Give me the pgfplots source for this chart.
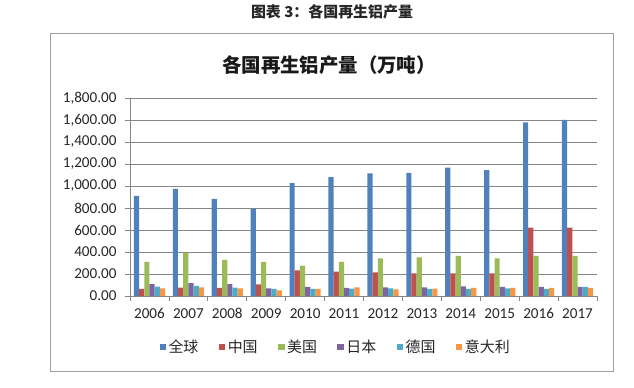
\documentclass[border=0pt]{standalone}
\usepackage{pgfplots}
\usepackage{pgfplotstable}
\pgfplotsset{compat=1.18}
\usepackage{fontspec}
\setmainfont{Carlito}
\newfontfamily\cjk{Noto Sans CJK SC}
\definecolor{c1}{HTML}{4F81BD}
\definecolor{c2}{HTML}{C0504D}
\definecolor{c3}{HTML}{9BBB59}
\definecolor{c4}{HTML}{8064A2}
\definecolor{c5}{HTML}{4BACC6}
\definecolor{c6}{HTML}{F79646}
\definecolor{gridc}{HTML}{868686}
\pgfplotstableread{
x all cn us jp de it
0 910 64 310 109 85 70
1 974 76 392 118 91 79
2 883 73 328 109 76 70
3 795 106 310 70 64 52
4 1026 234 276 82 64 64
5 1080 222 310 73 67 79
6 1114 215 343 79 70 61
7 1120 206 352 79 64 67
8 1168 206 364 88 64 73
9 1144 206 343 82 70 73
10 1578 622 364 82 64 73
11 1602 622 364 82 82 73
}\data
\begin{document}
\begin{tikzpicture}
\path[use as bounding box] (0bp,0bp) rectangle (634bp,388bp);
\draw[gray!75, line width=1bp] (50bp,16bp) rectangle (613bp,354bp);
\node[font=\cjk\bfseries\fontsize{15}{17}\selectfont, text=black!85] at (332bp,376bp) {图表 3：各国再生铝产量};
\node[font=\cjk\bfseries\fontsize{19.5}{21}\selectfont, text=black!90] at (329bp,323bp) {各国再生铝产量（万吨）};
\begin{axis}[
  at={(130bp,92bp)}, anchor=south west,
  scale only axis, width=467bp, height=198bp,
  xmin=-0.5, xmax=11.5, ymin=0, ymax=1800,
  ybar=0pt, bar width=5.2bp,
  xtick={0,...,11},
  xticklabels={2006,2007,2008,2009,2010,2011,2012,2013,2014,2015,2016,2017},
  minor xtick={-0.5,0.5,...,11.5},
  major x tick style={draw=none},
  minor tick length=5bp,
  ytick={0,200,...,1800},
  major tick length=5bp,
  tick align=outside,
  xtick pos=bottom, ytick pos=left,
  ymajorgrids,
  grid style={gridc, line width=0.8bp},
  axis x line*=bottom, axis y line*=left,
  axis line style={gridc, line width=0.8bp, -},
  tick style={gridc, line width=0.8bp},
  every tick label/.append style={font=\fontsize{15.2}{17}\selectfont, text=black!85},
  xticklabel style={yshift=-4bp},
  yticklabel style={xshift=-5bp},
  /pgf/number format/.cd, fixed, fixed zerofill, precision=2, 1000 sep={,}, assume math mode=true,
  /pgfplots/.cd,
  legend columns=6,
  legend style={at={(0.441,-0.258)}, anchor=center, draw=none, fill=none,
    font=\cjk\fontsize{15}{17}\selectfont, text=black!85,
    nodes={inner xsep=2.5bp},
    /tikz/every odd column/.append style={column sep=0bp},
    /tikz/every even column/.append style={column sep=18bp}},
  legend image code/.code={\fill[#1] (0bp,-3.2bp) rectangle (6.4bp,3.2bp);},
]
\addplot[fill=c1, draw=none] table[x=x,y=all]{\data};
\addplot[fill=c2, draw=none] table[x=x,y=cn]{\data};
\addplot[fill=c3, draw=none] table[x=x,y=us]{\data};
\addplot[fill=c4, draw=none] table[x=x,y=jp]{\data};
\addplot[fill=c5, draw=none] table[x=x,y=de]{\data};
\addplot[fill=c6, draw=none] table[x=x,y=it]{\data};
\legend{全球,中国,美国,日本,德国,意大利}
\end{axis}
\end{tikzpicture}
\end{document}
